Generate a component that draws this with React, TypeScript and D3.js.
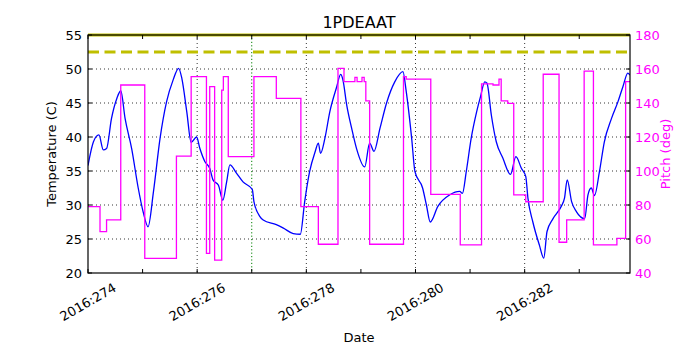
import * as d3 from 'd3';

// temperature samples: day of year (2016) and degrees C
const tempDay = [
  274.0, 274.1, 274.2, 274.28, 274.34, 274.43, 274.53, 274.6, 274.68, 274.8, 274.92, 275.01, 275.1,
  275.2, 275.32, 275.44, 275.56, 275.66, 275.72, 275.81, 275.89, 275.99, 276.05, 276.14, 276.23,
  276.29, 276.39, 276.47, 276.54, 276.6, 276.72, 276.84, 277.01, 277.04, 277.15, 277.21, 277.45,
  277.58, 277.76, 277.89, 277.97, 278.06, 278.16, 278.22, 278.26, 278.34, 278.43, 278.55, 278.63,
  278.67, 278.74, 278.83, 278.92, 279.07, 279.16, 279.24, 279.35, 279.47, 279.62, 279.77, 279.83,
  279.93, 279.99, 280.13, 280.2, 280.27, 280.41, 280.63, 280.81, 280.86, 280.93, 281.02, 281.12,
  281.19, 281.27, 281.31, 281.39, 281.48, 281.6, 281.74, 281.84, 281.94, 282.02, 282.06, 282.15,
  282.27, 282.35, 282.41, 282.52, 282.67, 282.73, 282.78, 282.86, 282.95, 283.1, 283.16, 283.22,
  283.28, 283.37, 283.46, 283.59, 283.71, 283.8, 283.89, 283.93,
];
const tempC = [
  35.8, 39.3, 40.3, 38.1, 38.3, 42.7, 45.7, 46.8, 42.7, 38.3, 32.5, 29.0, 26.8,
  32.0, 39.8, 45.2, 48.4, 50.1, 48.6, 43.7, 39.2, 40.0, 38.3, 36.4, 35.4,
  33.7, 32.9, 30.7, 33.4, 35.9, 34.7, 33.4, 32.3, 30.5, 28.3, 27.8, 27.1,
  26.6, 25.8, 25.7, 30.5, 34.9, 37.8, 39.1, 37.6, 39.8, 43.7, 47.2, 49.2,
  48.4, 44.7, 41.3, 38.3, 35.6, 39.1, 37.9, 41.3, 45.0, 48.1, 49.6, 46.7,
  39.8, 34.9, 32.5, 30.0, 27.5, 29.8, 31.5, 32.0, 31.7, 34.9, 39.8, 43.7,
  45.9, 48.1, 47.9, 43.2, 39.3, 36.9, 34.5, 37.1, 35.4, 34.2, 31.0, 27.5,
  24.1, 22.2, 26.1, 28.0, 29.8, 31.0, 33.7, 30.5, 29.0, 28.0, 31.5, 32.5,
  31.4, 34.9, 39.3, 42.7, 45.2, 47.4, 49.4, 49.1,
];

// pitch attitude: value held from each day until the next
const pitchDay = [
  274.0, 274.22, 274.34, 274.6, 275.04, 275.62, 275.89, 276.17, 276.23, 276.32, 276.45, 276.48,
  276.57, 277.04, 277.45, 277.9, 278.22, 278.58, 278.69, 278.89, 278.93, 279.02, 279.06, 279.09,
  279.16, 279.78, 279.83, 280.28, 280.82, 281.21, 281.42, 281.53, 281.57, 281.69, 281.8, 282.02,
  282.34, 282.63, 282.77, 283.09, 283.26, 283.69, 283.85, 283.93,
];
const pitchDeg = [
  79.0, 64.3, 71.2, 150.6, 48.6, 108.8, 155.5, 51.6, 149.6, 47.6, 147.6, 155.5,
  108.4, 155.5, 142.7, 79.0, 56.9, 160.4, 152.6, 155.1, 152.6, 155.1, 152.6, 141.2,
  56.9, 155.5, 154.1, 86.3, 56.5, 151.2, 150.6, 154.1, 141.2, 139.8, 85.9, 81.9,
  156.9, 58.1, 71.2, 158.8, 56.5, 60.4, 152.6, 152.6,
];

const dayTicks = [274, 276, 278, 280, 282];
const tempTicks = [20, 25, 30, 35, 40, 45, 50, 55];
const pitchTicks = [40, 60, 80, 100, 120, 140, 160, 180];
const tempLimit = 52.5;
const tempTop = 55;
const eventDay = 277;

const FONT = '"DejaVu Sans", sans-serif';

export default function App() {
  const left = 88, right = 630, top = 35, bottom = 273;
  const x = d3.scaleLinear().domain([274, 283.93]).range([left, right]);
  const yT = d3.scaleLinear().domain([20, 55]).range([bottom, top]);
  const yP = d3.scaleLinear().domain([40, 180]).range([bottom, top]);

  const tempLine = d3.line<number>()
    .x((_, i) => x(tempDay[i]))
    .y(d => yT(d))
    .curve(d3.curveMonotoneX);
  const pitchLine = d3.line<number>()
    .x((_, i) => x(pitchDay[i]))
    .y(d => yP(d))
    .curve(d3.curveStepAfter);

  const allDays = d3.range(274, 284);

  return (
    <svg width={700} height={350} style={{ position: 'absolute', left: 0, top: 0, background: '#fff' }}
      fontFamily={FONT}>
      <defs>
        <clipPath id="plot">
          <rect x={left} y={top - 2} width={right - left} height={bottom - top + 2} />
        </clipPath>
      </defs>

      {/* grid */}
      {tempTicks.slice(1, -1).map(t => (
        <line key={'gy' + t} x1={left} x2={right} y1={yT(t)} y2={yT(t)}
          stroke="#000" strokeWidth={0.8} strokeDasharray="1,3" />
      ))}
      {dayTicks.slice(1).map(d => (
        <line key={'gx' + d} x1={x(d)} x2={x(d)} y1={top} y2={bottom}
          stroke="#000" strokeWidth={0.8} strokeDasharray="1,3" />
      ))}

      <g clipPath="url(#plot)">
        <line x1={left} x2={right} y1={yT(tempTop)} y2={yT(tempTop)} stroke="#bfbf00" strokeWidth={3} />
        <line x1={left} x2={right} y1={yT(tempLimit)} y2={yT(tempLimit)}
          stroke="#bfbf00" strokeWidth={3} strokeDasharray="11,5.5" />
        <line x1={x(eventDay)} x2={x(eventDay)} y1={top} y2={bottom}
          stroke="#008000" strokeWidth={1} strokeDasharray="1.2,2.2" />
        <path d={tempLine(tempC) ?? ''} fill="none" stroke="#0000ff" strokeWidth={1.3} />
        <path d={pitchLine(pitchDeg) ?? ''} fill="none" stroke="#ff00ff" strokeWidth={1.3} />
      </g>

      {/* ticks */}
      {allDays.map(d => (
        <g key={'tx' + d}>
          <line x1={x(d)} x2={x(d)} y1={bottom} y2={bottom - 4} stroke="#000" />
          <line x1={x(d)} x2={x(d)} y1={top} y2={top + 4} stroke="#000" />
        </g>
      ))}
      {tempTicks.map(t => (
        <g key={'ty' + t}>
          <line x1={left} x2={left + 4} y1={yT(t)} y2={yT(t)} stroke="#000" />
          <text x={left - 6} y={yT(t)} dy="0.35em" textAnchor="end" fontSize={13}>{t}</text>
        </g>
      ))}
      {pitchTicks.map(p => (
        <g key={'tp' + p}>
          <line x1={right} x2={right - 4} y1={yP(p)} y2={yP(p)} stroke="#000" />
          <text x={right + 5} y={yP(p)} dy="0.35em" textAnchor="start" fontSize={13} fill="#ff00ff">{p}</text>
        </g>
      ))}
      {dayTicks.map(d => (
        <text key={'lx' + d} transform={`translate(${x(d)},${bottom + 29}) rotate(-30)`}
          textAnchor="middle" dy="0.35em" fontSize={13}>{`2016:${d}`}</text>
      ))}

      <rect x={left} y={top} width={right - left} height={bottom - top} fill="none" stroke="#000" strokeWidth={1.2} />

      <text x={(left + right) / 2} y={28} textAnchor="middle" fontSize={16}>1PDEAAT</text>
      <text x={(left + right) / 2} y={342} textAnchor="middle" fontSize={13}>Date</text>
      <text transform={`translate(56,${(top + bottom) / 2}) rotate(-90)`} textAnchor="middle" fontSize={13}>
        Temperature (C)
      </text>
      <text transform={`translate(670,${(top + bottom) / 2}) rotate(-90)`} textAnchor="middle" fontSize={13}
        fill="#ff00ff">Pitch (deg)</text>
    </svg>
  );
}
